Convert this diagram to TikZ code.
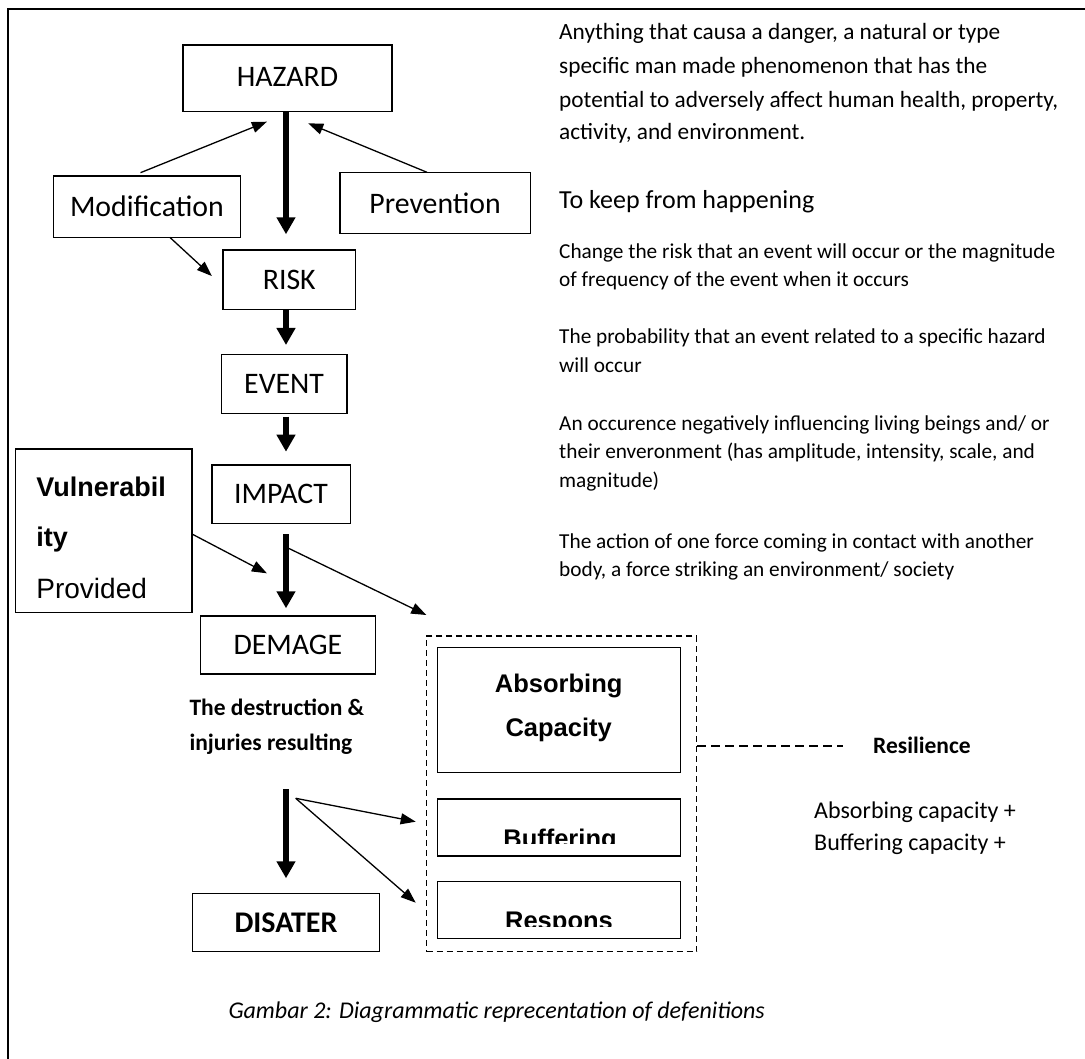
\documentclass[tikz,border=0pt]{standalone}
\usepackage{fontspec}
\setmainfont{Carlito}
\newfontfamily\arialf{Liberation Sans}
\usetikzlibrary{arrows.meta}
\begin{document}
\begin{tikzpicture}[x=1pt,y=-1pt,
  box/.style={draw, line width=1.4pt, inner sep=0pt, font=\fontsize{29.8}{31}\selectfont},
  abox/.style={draw, line width=1.4pt, inner sep=0pt},
  bigarrow/.style={line width=5.5pt, -{Triangle[length=17pt,width=18pt]}},
  thinarrow/.style={line width=1.3pt, -{Triangle[length=15pt,width=11pt]}},
  deftext/.style={anchor=base west, inner sep=0pt, font=\fontsize{23.3}{25}\selectfont},
  smalltext/.style={anchor=base west, inner sep=0pt, font=\fontsize{21.3}{23}\selectfont},
  boldlabel/.style={anchor=base west, inner sep=0pt, font=\fontsize{23.5}{25}\selectfont\bfseries},
  arialbold/.style={inner sep=0pt, font=\arialf\fontsize{25.5}{27}\selectfont\bfseries},
  dashedbox/.style={draw, line width=1.3pt, dash pattern=on 6pt off 4pt, inner sep=0pt},
]
\useasboundingbox (0,0) rectangle (1085,1059);
\fill[white] (0,0) rectangle (1085,1059);
% frame
\draw[line width=2pt] (7.6,1059) -- (7.6,9.3) -- (1085,9.3);

% main chain boxes
\node[box, minimum width=208.7pt, minimum height=66.7pt] (hazard) at (287.5,78.3) {\raisebox{3pt}{HAZARD}};
\node[box, minimum width=187pt, minimum height=61.3pt] (modif) at (146.9,206.7) {Modification};
\node[box, minimum width=190.4pt, minimum height=61.4pt] (prev) at (435.1,203) {Prevention};
\node[box, minimum width=132.3pt, minimum height=59.3pt] (risk) at (289.3,279.7) {RISK};
\node[box, minimum width=125.4pt, minimum height=59pt] (event) at (284.1,383.8) {EVENT};
\node[box, minimum width=138.4pt, minimum height=58.3pt] (impact) at (281,494.2) {IMPACT};
\node[box, minimum width=174.9pt, minimum height=58pt] (demage) at (287.9,645) {DEMAGE};
\node[box, minimum width=186.6pt, minimum height=58.4pt, font=\fontsize{30}{31}\selectfont\bfseries] (disater) at (286,922.5) {DISATER};

% vulnerability box
\node[abox, minimum width=176.3pt, minimum height=163.3pt] (vuln) at (103.7,530.7) {};
\node[anchor=base west, inner sep=0pt, font=\arialf\fontsize{27}{29}\selectfont\bfseries] (vul1) at (36.2,496.7) {Vulnerabil};
\node[anchor=base west, inner sep=0pt, font=\arialf\fontsize{27}{29}\selectfont\bfseries] (vul2) at (36.2,546.7) {ity};
\node[anchor=base west, inner sep=0pt, font=\arialf\fontsize{28}{30}\selectfont] (vul3) at (36.2,598.3) {Provided};

% resilience group
\node[dashedbox, minimum width=270pt, minimum height=315.7pt] (resil) at (561.7,793.8) {};
\node[abox, minimum width=243pt, minimum height=125pt] (absorb) at (559.2,710.2) {};
\node[arialbold, anchor=base] (abs1) at (558.7,692.7) {Absorbing};
\node[arialbold, anchor=base] (abs2) at (558.7,736.7) {Capacity};
\node[abox, minimum width=243pt, minimum height=57pt] (buffer) at (559.2,827.5) {};
\begin{scope}
  \clip (440,800) rectangle (678,843.5);
  \node[arialbold, anchor=base] (buf1) at (560,847) {Buffering};
\end{scope}
\node[abox, minimum width=243pt, minimum height=56.6pt] (respons) at (559.2,910) {};
\begin{scope}
  \clip (440,883) rectangle (678,926);
  \node[arialbold, anchor=base] (res1) at (559,929) {Respons};
\end{scope}

% resilience line and labels
\coordinate (rl) at (843,746);
\draw[line width=1.3pt, dash pattern=on 9pt off 5pt] (resil.east |- rl) -- (rl);
\node[boldlabel] (resilt) at (873,753) {Resilience};
\node[anchor=base west, inner sep=0pt, font=\fontsize{24}{25}\selectfont] (sum1) at (814,818) {Absorbing capacity +};
\node[anchor=base west, inner sep=0pt, font=\fontsize{24}{25}\selectfont] (sum2) at (814,850.7) {Buffering capacity +};

% damage text
\node[boldlabel] (dtext1) at (189.3,715) {The destruction \&};
\node[boldlabel] (dtext2) at (189.3,750) {injuries resulting};

% right definitions
\node[deftext] (d1a) at (559,39.3) {Anything that causa a danger, a natural or type};
\node[deftext] (d1b) at (559,73.3) {specific man made phenomenon that has the};
\node[deftext] (d1c) at (559,107.3) {potential to adversely affect human health, property,};
\node[deftext] (d1d) at (559,140) {activity, and environment.};
\node[anchor=base west, inner sep=0pt, font=\fontsize{26}{27}\selectfont] (d2) at (559,208.3) {To keep from happening};
\node[smalltext] (d3a) at (559,258.3) {Change the risk that an event will occur or the magnitude};
\node[smalltext] (d3b) at (559,286.7) {of frequency of the event when it occurs};
\node[smalltext] (d4a) at (559,343.3) {The probability that an event related to a specific hazard};
\node[smalltext] (d4b) at (559,372.7) {will occur};
\node[smalltext] (d5a) at (559,430) {An occurence negatively influencing living beings and/ or};
\node[smalltext] (d5b) at (559,458.3) {their enveronment (has amplitude, intensity, scale, and};
\node[smalltext] (d5c) at (559,487.3) {magnitude)};
\node[smalltext] (d6a) at (559,548) {The action of one force coming in contact with another};
\node[smalltext] (d6b) at (559,576.5) {body, a force striking an environment/ society};

% caption
\node[anchor=base west, inner sep=0pt, font=\fontsize{24}{25}\selectfont\itshape] (cap) at (228.3,1018.3) {Gambar 2: Diagrammatic reprecentation of defenitions};

% coordinates for arrow ends
\coordinate (t1) at (286,234.3);
\coordinate (t2) at (286,345);
\coordinate (s3) at (286,416.7);
\coordinate (t3) at (286,451.7);
\coordinate (s4) at (286,534.3);
\coordinate (t4) at (286,608.3);
\coordinate (s5) at (286,789.3);
\coordinate (t5) at (286,878.3);
\coordinate (mh1) at (140.5,172.7);
\coordinate (mh2) at (266.9,121.7);
\coordinate (ph1) at (427,172.3);
\coordinate (ph2) at (308.2,123.3);
\coordinate (mr1) at (169.8,237.3);
\coordinate (mr2) at (211.8,276);
\coordinate (vd2) at (266.9,573.3);
\coordinate (ir1) at (288.6,548.3);
\coordinate (ir2) at (426.3,615);
\coordinate (db1) at (295.7,798.3);
\coordinate (db2) at (415.7,821.7);
\coordinate (dr2) at (415.7,902.7);

% thick arrows
\draw[bigarrow] (hazard.south -| t1) -- (t1);
\draw[bigarrow] (risk.south -| t2) -- (t2);
\draw[bigarrow] (s3) -- (t3);
\draw[bigarrow] (s4) -- (t4);
\draw[bigarrow] (s5) -- (t5);

% thin arrows
\draw[thinarrow] (mh1) -- (mh2);
\draw[thinarrow] (ph1) -- (ph2);
\draw[thinarrow] (mr1) -- (mr2);
\draw[thinarrow] (vuln.east |- s4) -- (vd2);
\draw[thinarrow] (ir1) -- (ir2);
\draw[thinarrow] (db1) -- (db2);
\draw[thinarrow] (db1) -- (dr2);
\end{tikzpicture}
\end{document}
